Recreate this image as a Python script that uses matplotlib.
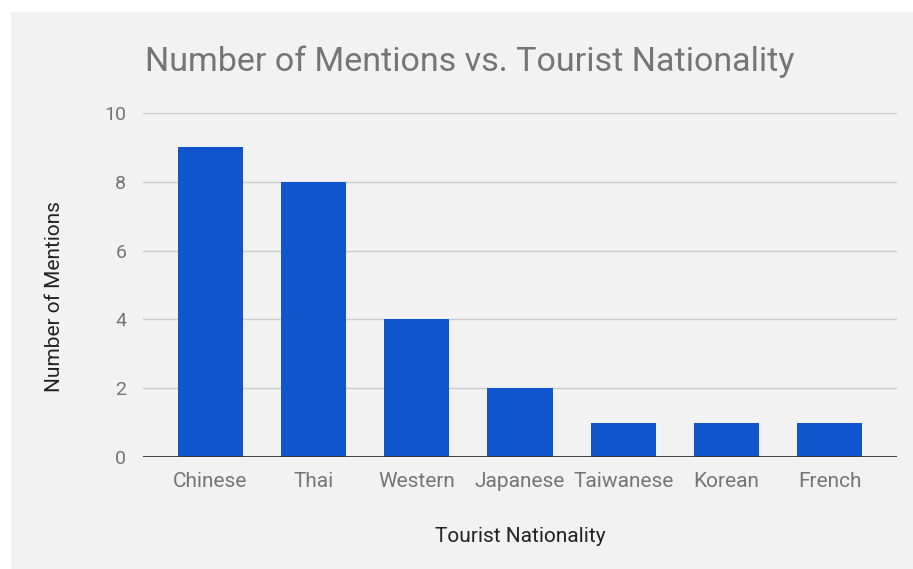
import matplotlib
matplotlib.use("Agg")
import matplotlib.pyplot as plt
from matplotlib.patches import Rectangle

nationalities = ["Chinese", "Thai", "Western", "Japanese", "Taiwanese", "Korean", "French"]
mentions = [9, 8, 4, 2, 1, 1, 1]
y_ticks = [0, 2, 4, 6, 8, 10]

plt.rcParams["font.family"] = ["Roboto", "DejaVu Sans"]

W, H = 913, 569
fig = plt.figure(figsize=(W / 100, H / 100), dpi=100, facecolor="white")
# grey chart background with a thin white margin at top/left
fig.patches.append(Rectangle((11 / W, 0), 1 - 11 / W, 1 - 12 / H,
                             transform=fig.transFigure, facecolor="#f2f2f2",
                             edgecolor="none", zorder=-10))

ax = fig.add_axes([143 / W, 1 - 457 / H, (897 - 143) / W, (457 - 113) / H])
ax.set_facecolor("none")

x = range(len(nationalities))
ax.bar(x, mentions, width=0.63, color="#1155cc", zorder=3)

ax.set_xlim(-0.65, len(nationalities) - 0.35)
ax.set_ylim(0, 10)
ax.set_yticks(y_ticks)
ax.set_xticks(list(x))
ax.set_xticklabels(nationalities)
ax.grid(axis="y", color="#cccccc", linewidth=1, zorder=0)
ax.axhline(0, color="#333333", linewidth=2, zorder=4)

for s in ax.spines.values():
    s.set_visible(False)
ax.tick_params(axis="both", length=0, labelcolor="#757575")
ax.tick_params(axis="x", pad=11, labelsize=15)
ax.tick_params(axis="y", pad=12, labelsize=14)

fig.text(145 / W, 1 - 62 / H, "Number of Mentions vs. Tourist Nationality",
         fontsize=24.5, color="#757575", ha="left", va="center")
fig.text(520 / W, 1 - 536 / H, "Tourist Nationality", fontsize=15,
         color="#222222", ha="center", va="center")
fig.text(55 / W, 1 - 297 / H, "Number of Mentions", fontsize=15,
         color="#222222", ha="center", va="center", rotation=90)

fig.savefig("out.png", dpi=100, facecolor=fig.get_facecolor())
